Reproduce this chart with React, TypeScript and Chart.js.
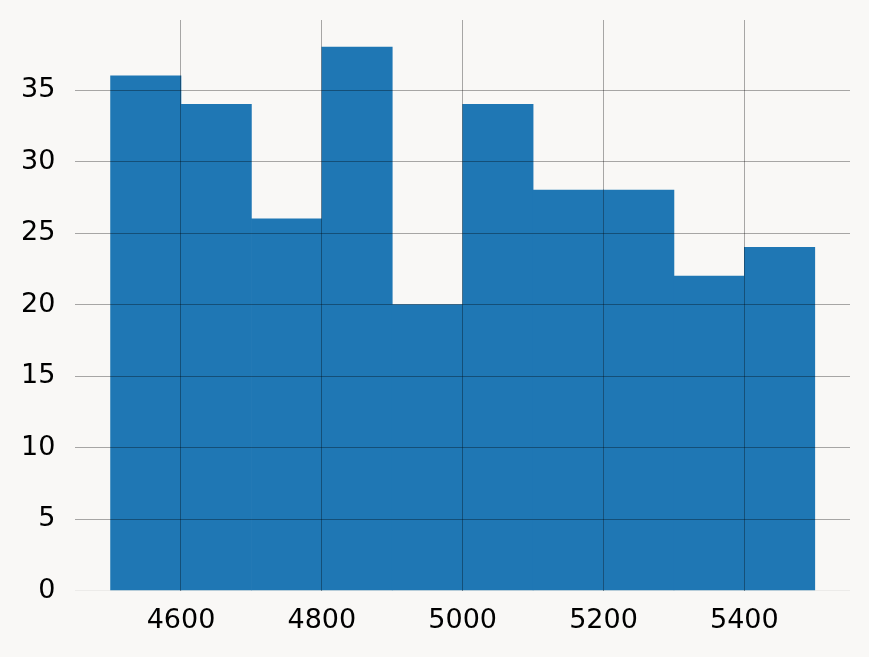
import React, { useEffect, useRef } from "react";
import { Chart, registerables } from "chart.js";

Chart.register(...registerables);

const binEdges = [4500, 4600, 4700, 4800, 4900, 5000, 5100, 5200, 5300, 5400, 5500];
const counts = [36, 34, 26, 38, 20, 34, 28, 28, 22, 24];
const xTicks = [4600, 4800, 5000, 5200, 5400];
const yTicks = [0, 5, 10, 15, 20, 25, 30, 35];

const BG = "#f9f8f6";
const GRID = "rgba(0,0,0,0.33)";

export default function App() {
  const ref = useRef<HTMLCanvasElement | null>(null);

  useEffect(() => {
    const canvas = ref.current;
    if (!canvas) return;
    const bgPlugin = {
      id: "bg",
      beforeDraw(chart: any) {
        const c = chart.ctx;
        c.save();
        c.fillStyle = BG;
        c.fillRect(0, 0, chart.width, chart.height);
        c.restore();
      },
    };
    const data = counts.map((v, i) => ({ x: (binEdges[i] + binEdges[i + 1]) / 2, y: v }));
    const chart = new Chart(canvas, {
      type: "bar",
      data: {
        datasets: [
          {
            data: data as any,
            backgroundColor: "#1f77b4",
            borderWidth: 0,
            barPercentage: 1,
            categoryPercentage: 1,
          },
        ],
      },
      options: {
        responsive: false,
        animation: false,
        events: [],
        layout: { padding: { left: 1, right: 19, top: 20, bottom: 6 } },
        plugins: { legend: { display: false }, tooltip: { enabled: false } },
        scales: {
          x: {
            type: "linear",
            min: 4450,
            max: 5550,
            offset: false,
            z: 1,
            afterBuildTicks: (s: any) => {
              s.ticks = xTicks.map((v) => ({ value: v }));
            },
            afterFit: (s: any) => {
              s.paddingLeft = 0;
              s.paddingRight = 0;
            },
            grid: { color: GRID, lineWidth: 1, drawTicks: false, offset: false, z: 1 },
            border: { display: false },
            ticks: {
              padding: 14,
              color: "#000",
              font: { family: "DejaVu Sans", size: 27 },
              callback: (v: any) => String(v),
              maxRotation: 0,
            },
          },
          y: {
            type: "linear",
            min: 0,
            max: 39.9,
            z: 1,
            afterBuildTicks: (s: any) => {
              s.ticks = yTicks.map((v) => ({ value: v }));
            },
            afterFit: (s: any) => {
              s.paddingTop = 0;
              s.paddingBottom = 0;
            },
            grid: {
              color: (ctx: any) => (ctx.tick && ctx.tick.value === 0 ? "rgba(0,0,0,0.05)" : GRID),
              lineWidth: 1,
              drawTicks: false,
              z: 1,
            },
            border: { display: false },
            ticks: {
              padding: 20,
              color: "#000",
              font: { family: "DejaVu Sans", size: 27 },
              callback: (v: any) => String(v),
            },
          },
        },
      },
      plugins: [bgPlugin],
    });
    return () => chart.destroy();
  }, []);

  return (
    <div style={{ position: "fixed", left: 0, top: 0, width: 869, height: 657, background: BG }}>
      <canvas ref={ref} width={869} height={657} style={{ display: "block", width: 869, height: 657 }} />
    </div>
  );
}
